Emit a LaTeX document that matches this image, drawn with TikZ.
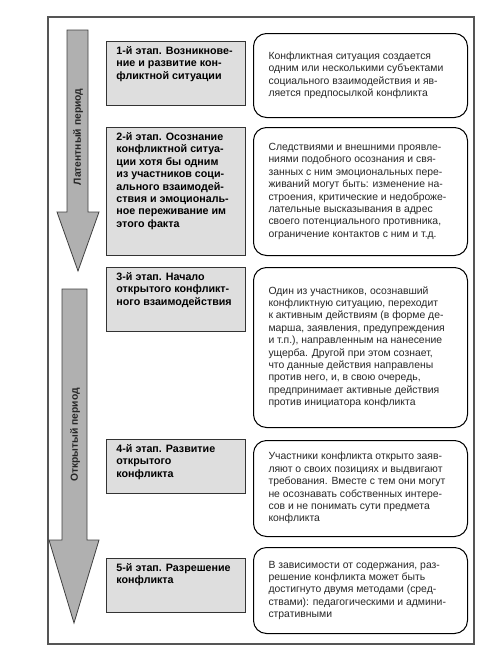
\documentclass[tikz,border=0pt]{standalone}
\usepackage{fontspec}
\setmainfont{Liberation Sans}
\usepackage{xcolor}
\usepackage{tikz}
\usetikzlibrary{positioning}
\definecolor{cFrame}{HTML}{555555}
\definecolor{cStage}{HTML}{DEDEDE}
\definecolor{cArrow}{HTML}{B0B0B0}
\definecolor{cText}{HTML}{262626}
\newcommand{\stagetext}[2]{\parbox[t][#1][t]{119pt}{\raggedright #2}}
\newcommand{\desctext}[1]{\makebox[184pt][l]{\begin{tabular}{@{}l@{}}#1\end{tabular}}}

\begin{document}
\begin{tikzpicture}[
    x=1pt, y=-1pt,
    font=\fontsize{10.4}{12.4}\selectfont,
    stage/.style={draw=black!80, fill=cStage, line width=0.9pt, anchor=north west,
                  inner xsep=10pt, inner ysep=5pt, minimum width=139pt,
                  font=\fontsize{10.7}{12.4}\selectfont\bfseries},
    desc/.style={draw=black, rounded corners=13pt, line width=1pt, anchor=north west,
                 inner xsep=15pt, inner ysep=0pt, minimum width=214pt, text=cText},
    period/.style={draw=black!75, fill=cArrow, line width=0.8pt},
    plabel/.style={rotate=90, font=\fontsize{10.3}{11}\selectfont\bfseries, text=black!85}
]
\useasboundingbox (0,0) rectangle (503,664);

% --- frame ---
\draw[cFrame, line width=1.3pt] (48,17) rectangle (474,644);

% --- periods ---
\draw[period] (67,30) -- (88,30) -- (88,212) -- (99,212) -- (78,271)
  -- (57,212) -- (67,212) -- cycle;
\draw[period] (62,289) -- (87,289) -- (87,540) -- (99,540) -- (74,623)
  -- (49,540) -- (62,540) -- cycle;
\node[plabel] (latent) at (78,137) {Латентный период};
\node[plabel] (open) at (75,435) {Открытый период};

% --- stages ---
\node[stage] (st1) at (106,41) {\stagetext{54pt}{1-й этап. Возникнове-\\
  ние и развитие кон-\\ фликтной ситуации}};
\node[stage] (st2) at (106,127) {\stagetext{118pt}{2-й этап. Осознание\\
  конфликтной ситуа-\\ ции хотя бы одним\\ из участников соци-\\
  ального взаимодей-\\ ствия и эмоциональ-\\ ное переживание им\\ этого факта}};
\node[stage] (st3) at (106,267) {\stagetext{54pt}{3-й этап. Начало\\
  открытого конфликт-\\ ного взаимодействия}};
\node[stage] (st4) at (106,439) {\stagetext{44pt}{4-й этап. Развитие\\
  открытого\\ конфликта}};
\node[stage] (st5) at (106,558) {\stagetext{44pt}{5-й этап. Разрешение\\
  конфликта}};

% --- descriptions ---
\node[desc, minimum height=84pt] (ds1) at (253,33)
  {\desctext{Конфликтная ситуация создается\\ одним или несколькими субъектами\\
   социального взаимодействия и яв-\\ ляется предпосылкой конфликта}};
\node[desc, minimum height=128pt] (ds2) at (253,127)
  {\desctext{Следствиями и внешними проявле-\\ ниями подобного осознания и свя-\\
   занных с ним эмоциональных пере-\\ живаний могут быть: изменение на-\\
   строения, критические и недоброже-\\ лательные высказывания в адрес\\
   своего потенциального противника,\\ ограничение контактов с ним и т.д.}};
\node[desc, minimum height=160pt] (ds3) at (253,267)
  {\desctext{Один из участников, осознавший\\ конфликтную ситуацию, переходит\\
   к активным действиям (в форме де-\\ марша, заявления, предупреждения\\
   и т.п.), направленным на нанесение\\ ущерба. Другой при этом сознает,\\
   что данные действия направлены\\ против него, и, в свою очередь,\\
   предпринимает активные действия\\ против инициатора конфликта}};
\node[desc, minimum height=96pt] (ds4) at (253,440)
  {\desctext{Участники конфликта открыто заяв-\\ ляют о своих позициях и выдвигают\\
   требования. Вместе с тем они могут\\ не осознавать собственных интере-\\
   сов и не понимать сути предмета\\ конфликта}};
\node[desc, minimum height=86pt] (ds5) at (253,547)
  {\desctext{В зависимости от содержания, раз-\\ решение конфликта может быть\\
   достигнуто двумя методами (сред-\\ ствами): педагогическими и админи-\\
   стративными}};

\end{tikzpicture}
\end{document}
